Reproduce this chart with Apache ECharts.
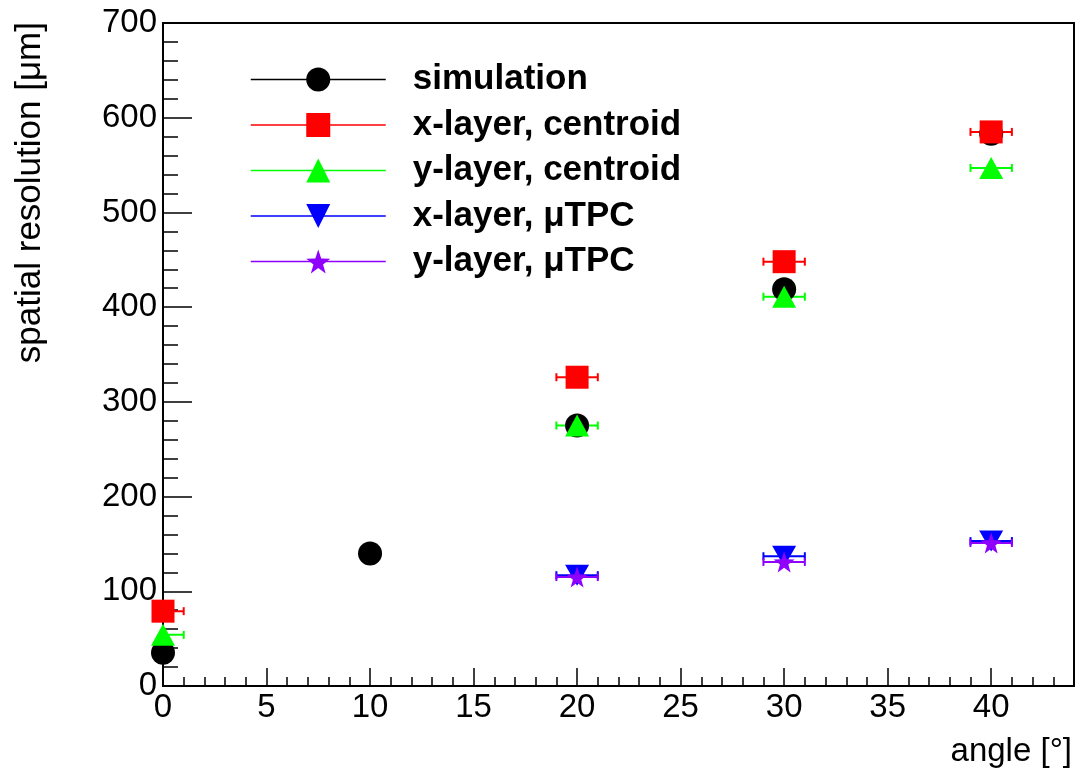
<!DOCTYPE html>
<html>
<head>
<meta charset="utf-8">
<script src="https://cdn.jsdelivr.net/npm/echarts@6/dist/echarts.min.js"></script>
<style>
html,body{margin:0;padding:0;background:#fff;}
#main{width:1078px;height:771px;}
</style>
</head>
<body>
<div id="main"></div>
<script>
// angle [deg] vs spatial resolution [um]
var simAngles = [0, 10, 20, 30, 40];
var simRes = [35, 140, 275, 419, 583];
var centroidAngles = [0, 20, 30, 40];
var xCentroidRes = [79, 326, 448, 585];
var yCentroidRes = [54, 275, 411, 547];
var tpcAngles = [20, 30, 40];
var xTpcRes = [117, 137, 153];
var yTpcRes = [115, 131, 151];
var angleErr = 1;

var seriesNames = ['simulation', 'x-layer, centroid', 'y-layer, centroid', 'x-layer, μTPC', 'y-layer, μTPC'];
var seriesColors = ['#000000', '#ff0000', '#00ff00', '#0000ff', '#8f00ff'];

var FONT = 'Liberation Sans, Arial, sans-serif';
var starPath = 'path://M0,-10 L2.35,-3.24 L9.51,-3.09 L3.8,1.24 L5.88,8.09 L0,4 L-5.88,8.09 L-3.8,1.24 L-9.51,-3.09 L-2.35,-3.24 Z';
var downTriPath = 'path://M0,0 L10,0 L5,8.66 Z';

function zip(xs, ys){
  var out = [];
  for(var i = 0; i < xs.length; i++){
    out.push([xs[i], ys[i]]);
  }
  return out;
}

// horizontal error bars with caps
function errSeries(xs, ys, color){
  var data = [];
  for(var i = 0; i < xs.length; i++){
    data.push([xs[i], ys[i], angleErr]);
  }
  return {
    type: 'custom',
    data: data,
    clip: true,
    silent: true,
    z: 1,
    encode: {x: 0, y: 1},
    renderItem: function(params, api){
      var x = api.value(0), y = api.value(1), e = api.value(2);
      var p0 = api.coord([x - e, y]);
      var p1 = api.coord([x + e, y]);
      var h = 4;
      var st = {stroke: color, lineWidth: 2};
      return {
        type: 'group',
        children: [
          {type: 'line', shape: {x1: p0[0], y1: p0[1], x2: p1[0], y2: p1[1]}, style: st},
          {type: 'line', shape: {x1: p0[0], y1: p0[1] - h, x2: p0[0], y2: p0[1] + h}, style: st},
          {type: 'line', shape: {x1: p1[0], y1: p1[1] - h, x2: p1[0], y2: p1[1] + h}, style: st}
        ]
      };
    }
  };
}

function pointSeries(idx, xs, ys, symbol, size){
  return {
    type: 'line',
    name: seriesNames[idx],
    data: zip(xs, ys),
    symbol: symbol,
    symbolSize: size,
    showSymbol: true,
    silent: true,
    z: 3,
    itemStyle: {color: seriesColors[idx], opacity: 1},
    lineStyle: {color: seriesColors[idx], opacity: 0, width: 1}
  };
}

var myChart = echarts.init(document.getElementById('main'));
var option = {
  animation: false,
  backgroundColor: '#fff',
  grid: {
    left: 163, right: 4, top: 23, bottom: 85,
    show: true, borderColor: '#000', borderWidth: 2, backgroundColor: 'transparent'
  },
  legend: {
    data: seriesNames,
    orient: 'vertical',
    left: 250,
    top: 62,
    padding: 0,
    itemWidth: 135,
    itemHeight: 30,
    itemGap: 10.5,
    selectedMode: false,
    textStyle: {fontSize: 35, fontWeight: 'bold', fontFamily: FONT, color: '#000', padding: [0, 0, 0, 22]},
    lineStyle: {width: 1.5, opacity: 1}
  },
  xAxis: [
    {
      type: 'value', position: 'bottom', min: 0, max: 44, interval: 5,
      axisLine: {lineStyle: {color: '#000', width: 2}},
      axisTick: {inside: true, length: 18, lineStyle: {color: '#000', width: 1.5}},
      splitLine: {show: false},
      axisLabel: {
        color: '#000', fontSize: 33, fontFamily: FONT, margin: 5,
        formatter: function(v){ return v % 5 === 0 ? String(v) : ''; }
      }
    },
    {
      type: 'value', position: 'bottom', min: 0, max: 44, interval: 1,
      axisLine: {show: false},
      axisTick: {inside: true, length: 9, lineStyle: {color: '#000', width: 1.5}},
      splitLine: {show: false},
      axisLabel: {show: false}
    }
  ],
  yAxis: {
    type: 'value', min: 0, max: 700, interval: 100,
    axisLine: {show: true, lineStyle: {color: '#000', width: 2}},
    axisTick: {show: true, inside: true, length: 29, lineStyle: {color: '#000', width: 1.5}},
    minorTick: {show: true, splitNumber: 5, length: 15, lineStyle: {color: '#000', width: 1.5}},
    splitLine: {show: false},
    axisLabel: {color: '#000', fontSize: 33, fontFamily: FONT, margin: 6}
  },
  graphic: [
    {
      type: 'text', x: 30, y: 22, rotation: Math.PI / 2,
      style: {text: 'spatial resolution [μm]', fill: '#000', font: '35px ' + FONT, align: 'right', verticalAlign: 'middle'}
    },
    {
      type: 'text', x: 1072, y: 752,
      style: {text: 'angle [°]', fill: '#000', font: '33px ' + FONT, align: 'right', verticalAlign: 'middle'}
    }
  ],
  series: [
    errSeries(centroidAngles, xCentroidRes, seriesColors[1]),
    errSeries(centroidAngles, yCentroidRes, seriesColors[2]),
    errSeries(tpcAngles, xTpcRes, seriesColors[3]),
    errSeries(tpcAngles, yTpcRes, seriesColors[4]),
    pointSeries(0, simAngles, simRes, 'circle', 24),
    pointSeries(1, centroidAngles, xCentroidRes, 'rect', 23),
    pointSeries(2, centroidAngles, yCentroidRes, 'triangle', [24, 22]),
    pointSeries(3, tpcAngles, xTpcRes, downTriPath, [24, 21]),
    pointSeries(4, tpcAngles, yTpcRes, starPath, 21)
  ]
};
myChart.setOption(option);
</script>
</body>
</html>
